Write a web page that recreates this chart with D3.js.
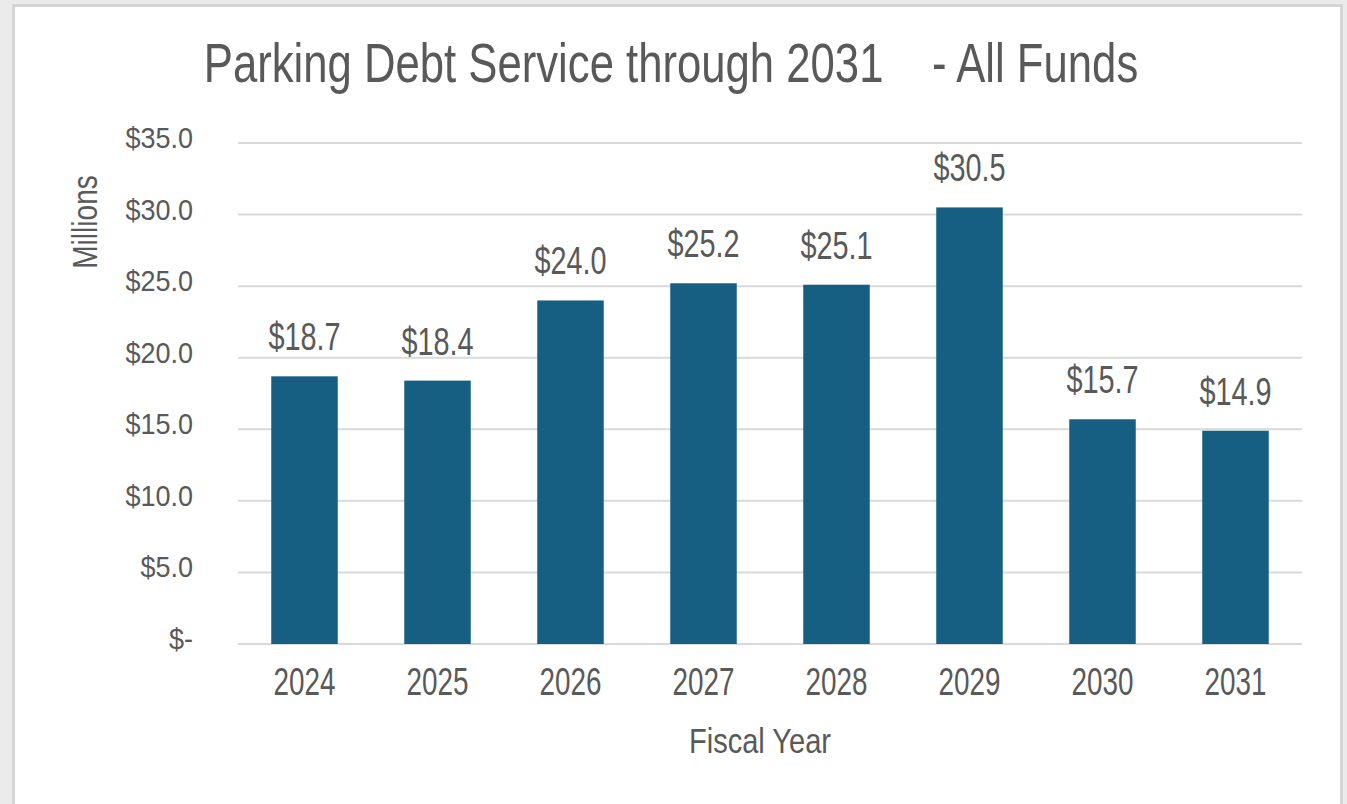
<!DOCTYPE html>
<html>
<head>
<meta charset="utf-8">
<script src="https://cdn.jsdelivr.net/npm/d3@7"></script>
<style>
  html, body { margin: 0; padding: 0; background: #ebebeb; }
  svg { display: block; }
  text { font-family: "Liberation Sans", Arial, sans-serif; fill: #595959; white-space: pre; }
</style>
</head>
<body>
<svg id="chart" width="1347" height="804"></svg>
<script>
const categories = ["2024", "2025", "2026", "2027", "2028", "2029", "2030", "2031"];
const values = [18.7, 18.4, 24.0, 25.2, 25.1, 30.5, 15.7, 14.9];
const yTicks = [0, 5, 10, 15, 20, 25, 30, 35];
const yTickLabels = ["$-", "$5.0", "$10.0", "$15.0", "$20.0", "$25.0", "$30.0", "$35.0"];
const title = "Parking Debt Service through 2031    - All Funds";
const xTitle = "Fiscal Year";
const yTitle = "Millions";

const W = 1347, H = 804;
const svg = d3.select("#chart");

// panel
svg.append("rect").attr("x", 0).attr("y", 0).attr("width", W).attr("height", H).attr("fill", "#ebebeb");
svg.append("rect").attr("x", 13.5).attr("y", 5.5).attr("width", 1328).attr("height", 820)
  .attr("fill", "#ffffff").attr("stroke", "#d5d5d5").attr("stroke-width", 3);

const plot = { left: 238, right: 1302, top: 143, bottom: 644 };

const x = d3.scaleBand().domain(categories).range([plot.left, plot.right]).paddingInner(0.5).paddingOuter(0.25);
const y = d3.scaleLinear().domain([0, 35]).range([plot.bottom, plot.top]);

function stext(g, txt, px, py, size, sx, anchor, rotate) {
  const t = g.append("text")
    .attr("transform", `translate(${px},${py})` + (rotate ? ` rotate(${rotate})` : "") + ` scale(${sx},1)`)
    .attr("text-anchor", anchor)
    .attr("font-size", size)
    .text(txt);
  return t;
}

// gridlines
const grid = svg.append("g");
grid.selectAll("line").data(yTicks).join("line")
  .attr("x1", plot.left).attr("x2", plot.right)
  .attr("y1", d => y(d)).attr("y2", d => y(d))
  .attr("stroke", "#d9d9d9").attr("stroke-width", 2);

// y tick labels
const yl = svg.append("g");
yTicks.forEach((d, i) => stext(yl, yTickLabels[i], 193, y(d) + 5, 30, 0.9, "end"));

// bars
svg.append("g").selectAll("rect").data(values).join("rect")
  .attr("x", (d, i) => x(categories[i]))
  .attr("width", x.bandwidth())
  .attr("y", d => y(d))
  .attr("height", d => y(0) - y(d))
  .attr("fill", "#165f83");

// value labels
const vl = svg.append("g");
values.forEach((d, i) => stext(vl, "$" + d.toFixed(1), x(categories[i]) + x.bandwidth() / 2, y(d) - 26, 39, 0.74, "middle"));

// category labels
const cl = svg.append("g");
categories.forEach(c => stext(cl, c, x(c) + x.bandwidth() / 2, 695, 39, 0.715, "middle"));

// titles
stext(svg, title, 671, 82, 56, 0.78, "middle");
stext(svg, xTitle, 760, 753, 35, 0.83, "middle");
stext(svg, yTitle, 97, 222, 36, 0.78, "middle", -90);
</script>
</body>
</html>
